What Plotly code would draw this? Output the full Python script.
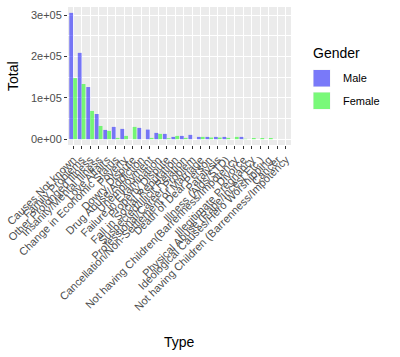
import plotly.graph_objects as go

categories = [
    "Causes Not known", "Family Problems", "Other Prolonged Illness",
    "Insanity/Mental Illness", "Love Affairs", "Change in Economic Status",
    "Poverty", "Dowry Dispute", "Drug Abuse/Addiction", "Unemployment",
    "Failure in Examination", "Property Dispute", "Fall in Social Reputation",
    "Suspected/Illicit Relation", "Professional/Career Problem",
    "Cancellation/Non-Settlement of Marriage", "Death of Dear Person", "Paralysis",
    "Illness (Aids/STD)", "Not having Children(Barrenness/Impotency",
    "Divorce", "Illegitimate Pregnancy", "Physical Abuse (Rape/Incest Etc.)",
    "Ideological Causes/Hero Worshipping", "Cancer",
    "Not having Children (Barrenness/Impotency",
]
male = [305800, 209000, 126300, 61100, 22500, 29800, 25000, 0, 27400, 23300,
        15300, 12900, 5600, 8000, 10500, 5600, 5600, 5600, 5600, 0,
        5600, 0, 0, 0, 0, 0]
female = [148000, 133600, 68400, 32100, 20100, 3200, 8000, 29800, 0, 3200,
          12900, 2400, 8000, 3200, 0, 5600, 4000, 4000, 3200, 5600,
          1000, 3000, 3000, 3000, 0, 0]
y_ticks = [0, 100000, 200000, 300000]
y_tick_labels = ["0e+00", "1e+05", "2e+05", "3e+05"]
legend_title = "Gender"
series_names = ["Male", "Female"]

MALE_C = "rgba(0,0,255,0.5)"
FEMALE_C = "rgba(0,255,0,0.5)"
FONT = "Liberation Sans, Arial, sans-serif"

fig = go.Figure()
fig.add_trace(go.Bar(x=categories, y=male, name=series_names[0],
                     marker=dict(color=MALE_C, line=dict(width=0)), showlegend=False))
fig.add_trace(go.Bar(x=categories, y=female, name=series_names[1],
                     marker=dict(color=FEMALE_C, line=dict(width=0)), showlegend=False))

W, H = 400, 357
L, R, T, B = 68, 109, 7, 212
pw = W - L - R
ph = H - T - B

def px2paper_x(px):
    return (px - L) / pw

def px2paper_y(py):
    return 1 - (py - T) / ph

fig.update_layout(
    width=W, height=H,
    margin=dict(l=L, r=R, t=T, b=B, pad=0),
    paper_bgcolor="white",
    plot_bgcolor="#EBEBEB",
    barmode="group", bargap=0.1, bargroupgap=0,
    font=dict(family=FONT, size=11, color="#4D4D4D"),
    showlegend=False,
    xaxis=dict(
        type="category", range=[-0.6, len(categories) - 0.4],
        tickmode="array", tickvals=categories, ticktext=categories,
        showgrid=True, gridcolor="white", gridwidth=1.1,
        tickangle=-45, ticks="outside", ticklen=3, tickcolor="#333333",
        tickwidth=1, tickfont=dict(size=11, color="#4D4D4D", family=FONT),
        zeroline=False, showline=False, automargin=False,
    ),
    yaxis=dict(
        range=[-14000, 320000],
        tickvals=y_ticks, ticktext=y_tick_labels,
        showgrid=True, gridcolor="white", gridwidth=1.1,
        minor=dict(showgrid=True, gridcolor="white", gridwidth=0.5, dtick=50000,
                   tick0=0),
        ticks="outside", ticklen=3, tickcolor="#333333", tickwidth=1,
        tickfont=dict(size=11, color="#4D4D4D", family=FONT),
        zeroline=False, showline=False, automargin=False,
    ),
)

annotations = [
    dict(text="Total", xref="paper", yref="paper", x=px2paper_x(13), y=px2paper_y(76),
         showarrow=False, textangle=-90, font=dict(size=14, color="black", family=FONT),
         xanchor="center", yanchor="middle"),
    dict(text="Type", xref="paper", yref="paper", x=px2paper_x(179.5), y=px2paper_y(342),
         showarrow=False, font=dict(size=14, color="black", family=FONT),
         xanchor="center", yanchor="middle"),
    dict(text=legend_title, xref="paper", yref="paper", x=px2paper_x(311), y=px2paper_y(53),
         showarrow=False, font=dict(size=14, color="black", family=FONT),
         xanchor="left", yanchor="middle"),
]
shapes = []
key_colors = [MALE_C, FEMALE_C]
key_tops = [69.5, 92]
for name, col, top in zip(series_names, key_colors, key_tops):
    x0, x1 = 313, 330.5
    y0, y1 = top, top + 17.5
    shapes.append(dict(type="rect", xref="paper", yref="paper",
                       x0=px2paper_x(x0), x1=px2paper_x(x1),
                       y0=px2paper_y(y1), y1=px2paper_y(y0),
                       fillcolor="#F2F2F2", line=dict(width=0), layer="above"))
    shapes.append(dict(type="rect", xref="paper", yref="paper",
                       x0=px2paper_x(x0 + 0.5), x1=px2paper_x(x1 - 0.5),
                       y0=px2paper_y(y1 - 0.5), y1=px2paper_y(y0 + 0.5),
                       fillcolor=col, line=dict(width=0), layer="above"))
    annotations.append(dict(text=name, xref="paper", yref="paper",
                            x=px2paper_x(341), y=px2paper_y((y0 + y1) / 2),
                            showarrow=False, font=dict(size=11, color="black", family=FONT),
                            xanchor="left", yanchor="middle"))

fig.update_layout(annotations=annotations, shapes=shapes)
fig.write_html("out.html", config={"displayModeBar": False},
               post_script="document.body.style.margin='0';document.body.style.padding='0';")
